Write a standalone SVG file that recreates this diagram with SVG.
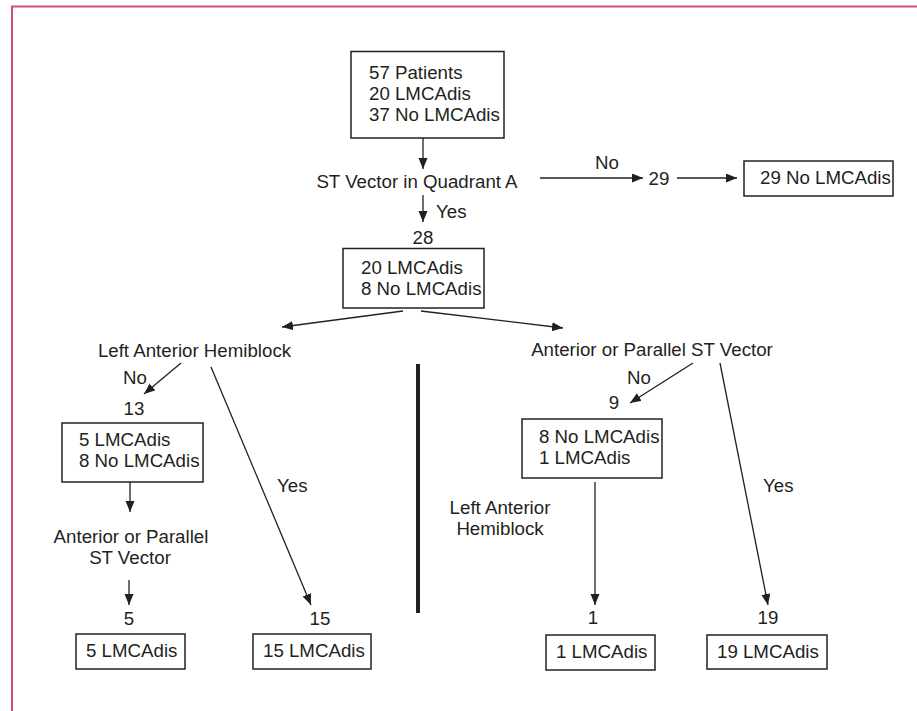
<svg xmlns="http://www.w3.org/2000/svg" width="917" height="711" viewBox="0 0 917 711">
<defs>
<marker id="ah" markerUnits="userSpaceOnUse" markerWidth="12" markerHeight="10" refX="11" refY="4.5" orient="auto">
<path d="M0,0 L11,4.5 L0,9 z" fill="#231f20"/>
</marker>
<style>
text{font-family:"Liberation Sans",Arial,sans-serif;font-size:18.7px;fill:#231f20}
.m{text-anchor:middle}
.box{fill:#fff;stroke:#231f20;stroke-width:1.5}
.c{stroke:#231f20;stroke-width:1.3;fill:none}
.a{marker-end:url(#ah)}
</style>
</defs>
<rect width="917" height="711" fill="#fff"/>
<path d="M12,711 V6.5 H917" fill="none" stroke="#cf4f7a" stroke-width="2"/>

<g id="connectors">
<line class="c a" x1="423" y1="138" x2="423" y2="169"/>
<line class="c a" x1="540" y1="178" x2="643" y2="178"/>
<line class="c a" x1="677" y1="178" x2="737" y2="178"/>
<line class="c a" x1="423" y1="195" x2="423" y2="222"/>
<line class="c a" x1="403" y1="311" x2="282" y2="327"/>
<line class="c a" x1="421" y1="311" x2="563" y2="328"/>
<line class="c a" x1="181" y1="363" x2="144" y2="394"/>
<line class="c a" x1="130" y1="482" x2="130" y2="512"/>
<line class="c a" x1="129" y1="580" x2="129" y2="605"/>
<line class="c a" x1="211" y1="367" x2="311" y2="605"/>
<line class="c a" x1="693" y1="363" x2="630" y2="403"/>
<line class="c a" x1="595" y1="482" x2="595" y2="605"/>
<line class="c a" x1="720" y1="363" x2="768" y2="605"/>
<line x1="418" y1="364" x2="418" y2="613" stroke="#231f20" stroke-width="4"/>
</g>

<g id="n-start">
<rect class="box" x="351" y="51.5" width="153" height="86.5"/>
<text x="369" y="79">57 Patients</text>
<text x="369" y="100">20 LMCAdis</text>
<text x="369" y="121">37 No LMCAdis</text>
</g>
<g id="q-quadrant">
<text class="m" x="417" y="188">ST Vector in Quadrant A</text>
<text x="595" y="169">No</text>
<text x="436" y="218">Yes</text>
</g>
<g id="n-29">
<text class="m" x="659" y="185">29</text>
</g>
<g id="n-29-box">
<rect class="box" x="744" y="161" width="149" height="35"/>
<text x="760" y="184">29 No LMCAdis</text>
</g>
<g id="n-28">
<text class="m" x="423" y="244">28</text>
<rect class="box" x="343" y="248.5" width="141" height="59.5"/>
<text x="361" y="274">20 LMCAdis</text>
<text x="361" y="295">8 No LMCAdis</text>
</g>
<g id="q-lah">
<text class="m" x="194.5" y="357">Left Anterior Hemiblock</text>
<text x="123" y="384">No</text>
<text x="277" y="492">Yes</text>
</g>
<g id="n-13">
<text class="m" x="134" y="415">13</text>
<rect class="box" x="62" y="423" width="141" height="59"/>
<text x="79" y="446">5 LMCAdis</text>
<text x="79" y="467">8 No LMCAdis</text>
</g>
<g id="q-ap-left">
<text class="m" x="131" y="543">Anterior or Parallel</text>
<text class="m" x="130" y="564">ST Vector</text>
</g>
<g id="n-5">
<text class="m" x="129" y="625">5</text>
<rect class="box" x="76" y="634" width="109" height="35"/>
<text x="86" y="657">5 LMCAdis</text>
</g>
<g id="n-15">
<text class="m" x="320" y="625">15</text>
<rect class="box" x="253" y="634" width="118" height="35"/>
<text x="263" y="657">15 LMCAdis</text>
</g>
<g id="q-ap-right">
<text class="m" x="652" y="356">Anterior or Parallel ST Vector</text>
<text x="627" y="384">No</text>
<text x="763" y="492">Yes</text>
</g>
<g id="n-9">
<text class="m" x="614" y="409">9</text>
<rect class="box" x="522" y="419" width="140" height="59"/>
<text x="539" y="443">8 No LMCAdis</text>
<text x="539" y="464">1 LMCAdis</text>
</g>
<g id="q-lah-right">
<text class="m" x="500" y="514">Left Anterior</text>
<text class="m" x="500" y="535">Hemiblock</text>
</g>
<g id="n-1">
<text class="m" x="593" y="624">1</text>
<rect class="box" x="546" y="635" width="109" height="35"/>
<text x="556" y="658">1 LMCAdis</text>
</g>
<g id="n-19">
<text class="m" x="768" y="624">19</text>
<rect class="box" x="707" y="635" width="120" height="34"/>
<text x="717" y="658">19 LMCAdis</text>
</g>
</svg>
